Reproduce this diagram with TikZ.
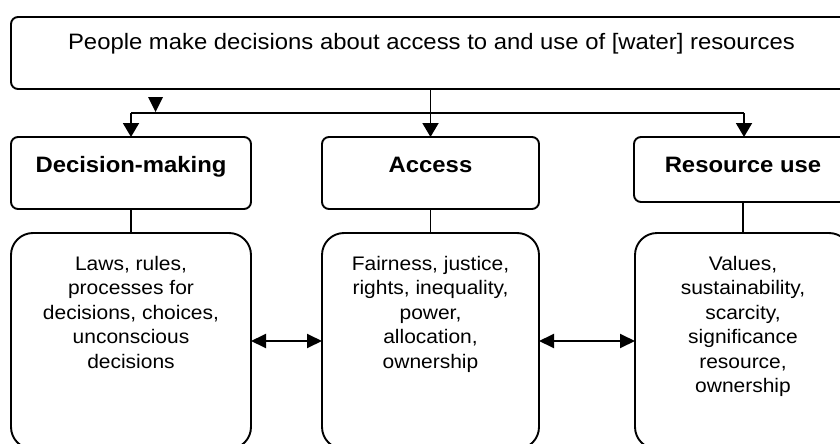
\documentclass[tikz,border=0pt]{standalone}
\usepackage{fontspec}
\setmainfont{Liberation Sans}[FakeStretch=1.07]
\usetikzlibrary{arrows.meta}
\begin{document}
\begin{tikzpicture}[x=1pt,y=-1pt,
  box/.style={draw, line width=1.9pt, rounded corners=7pt, inner sep=0pt, outer sep=0pt},
  bigbox/.style={draw, line width=1.9pt, rounded corners=22pt, inner sep=0pt, outer sep=0pt},
  conn/.style={line width=1.9pt},
  arr/.style={conn, -{Triangle[length=14pt,width=16pt]}},
  darr/.style={conn, {Triangle[length=15pt,width=14pt]}-{Triangle[length=15pt,width=14pt]}},
  toptxt/.style={font=\fontsize{22.3}{26}\selectfont, inner sep=0pt, anchor=base},
  head/.style={font=\bfseries\fontsize{22.3}{26}\selectfont, inner sep=0pt, anchor=base},
  body/.style={font=\fontsize{19.6}{24.5}\selectfont, align=center, inner sep=0pt, anchor=north}]
\clip (0,0) rectangle (840,444);

% top box
\node[box, minimum width=841pt, minimum height=72pt] (top) at (431.5,53) {};
\node[toptxt] (toptext) at (431.5,50) {People make decisions about access to and use of [water] resources};

% header boxes
\node[box, minimum width=240pt, minimum height=72pt] (dm) at (131,173) {};
\node[head] (dmt) at (131,172) {Decision-making};
\node[box, minimum width=217pt, minimum height=72pt] (acc) at (430.5,173) {};
\node[head] (acct) at (430.5,172) {Access};
\node[box, minimum width=218pt, minimum height=65pt] (ru) at (743,169.5) {};
\node[head] (rut) at (743,172) {Resource use};

% lower boxes
\node[bigbox, minimum width=240pt, minimum height=216pt] (dml) at (131,341) {};
\node[body] (dmlt) at (131,252) {\rule{0pt}{18pt}Laws, rules,\\processes for\\decisions, choices,\\unconscious\\decisions};
\node[bigbox, minimum width=217pt, minimum height=216pt] (accl) at (430.5,341) {};
\node[body] (acclt) at (430.5,252) {\rule{0pt}{18pt}Fairness, justice,\\rights, inequality,\\power,\\allocation,\\ownership};
\node[bigbox, minimum width=216pt, minimum height=216pt] (rul) at (743,341) {};
\node[body] (rult) at (743,252) {\rule{0pt}{18pt}Values,\\sustainability,\\scarcity,\\significance\\resource,\\ownership};

% connectors
\coordinate (jl) at (131,113);
\coordinate (jr) at (744,113);
\draw[conn] (jl) -- (jr);
\draw[arr] (jl) -- (dm.north);
\draw[arr] (jr) -- (ru.north -| jr);
\draw[arr] (top.south -| acc.north) -- (acc.north);
\fill (148,97) -- (163,97) -- (155.5,112) -- cycle;

\draw[conn] (dm.south) -- (dml.north);
\draw[conn] (acc.south) -- (accl.north);
\draw[conn] (ru.south) -- (rul.north);

\draw[darr] (dml.east) -- (accl.west);
\draw[darr] (accl.east) -- (rul.west);
\end{tikzpicture}
\end{document}
